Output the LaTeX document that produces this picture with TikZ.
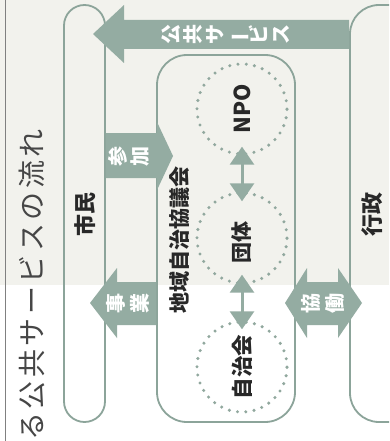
\documentclass[tikz,border=0pt]{standalone}
\usepackage{fontspec}
\usepackage{graphicx}
\setmainfont{Noto Sans CJK JP}
\usetikzlibrary{arrows.meta}
\definecolor{sage}{RGB}{148,172,162}
\definecolor{sageline}{RGB}{140,164,154}
\definecolor{sagedot}{RGB}{145,168,158}
\definecolor{bgtop}{RGB}{242,242,237}
\definecolor{ink}{RGB}{40,40,40}
\definecolor{titleink}{RGB}{70,70,70}
\newcommand{\vbarchar}{\smash{\rotatebox[origin=c]{90}{ー}}}
\newcommand{\tsp}{\hspace{3.5pt}}
\begin{document}
\begin{tikzpicture}[x=1pt,y=-1pt,
  box/.style={draw=sageline, line width=1.8pt, inner sep=0pt},
  dotcircle/.style={circle, draw=sagedot, line width=3.4pt, dash pattern=on 0pt off 8.3pt, line cap=round, minimum size=90pt, inner sep=0pt},
  lbl/.style={text=ink, font=\bfseries\fontsize{21.5}{21.5}\selectfont, rotate=90, inner sep=0pt},
  arrowlbl/.style={text=white, align=center, rotate=90, inner sep=0pt, font=\bfseries\fontsize{20}{22}\selectfont},
  blockarrow/.style={fill=sage},
  link/.style={draw=sage, line width=3pt, {Triangle[width=24pt,length=18pt]}-{Triangle[width=24pt,length=18pt]}}
]
\useasboundingbox (0,0) rectangle (389,441);
\clip (0,0) rectangle (389,441);
\fill[white] (0,0) rectangle (389,441);
\fill[bgtop] (0,0) rectangle (389,285);
\coordinate (ruletop) at (5,0);
\coordinate (rulebot) at (5,441);
\draw[gray, line width=0.8pt] (ruletop) -- (rulebot);

\node[rotate=90, text=titleink, inner sep=0pt, font=\fontsize{28}{28}\selectfont] (title) at (32,285)
  {る\tsp 公\tsp 共\tsp サ\tsp ー\tsp ビ\tsp ス\tsp の\tsp 流\tsp れ};

% boxes
\node[box, rounded corners=20.5pt, minimum width=41pt, minimum height=417pt] (shimin) at (84.5,213.5) {};
\node[box, rounded corners=29pt, minimum width=70pt, minimum height=417pt] (gyosei) at (385,213.5) {};
\node[box, rounded corners=30pt, minimum width=138pt, minimum height=367pt] (chiiki) at (226,238.5) {};

\node[lbl, font=\bfseries\fontsize{22}{22}\selectfont] (shiminlbl) at (85,214) {市民};
\node[lbl, font=\bfseries\fontsize{22}{22}\selectfont] (gyoseilbl) at (372,214) {行政};
\node[lbl, font=\bfseries\fontsize{21}{21}\selectfont] (chiikilbl) at (180,240) {地域自治協議会};

% circles
\node[dotcircle] (npo) at (242,109) {};
\node[dotcircle] (dantai) at (242,238) {};
\node[dotcircle] (jichi) at (242,367) {};
\node[lbl, font=\bfseries\fontsize{22}{22}\selectfont] (npolbl) at (npo) {NPO};
\node[lbl, font=\bfseries\fontsize{21}{21}\selectfont] (dantailbl) at (242,242) {団体};
\node[lbl] (jichilbl) at (jichi) {自治会};

% block arrows
\fill[blockarrow] (gyosei.west |- 0,20) -- (124,20) -- (124,5) -- (93,34) -- (124,63) -- (124,49) -- (gyosei.west |- 0,49) -- cycle;
\fill[blockarrow] (shimin.east |- 0,133) -- (157,133) -- (157,122) -- (173,156) -- (157,190) -- (157,178) -- (shimin.east |- 0,178) -- cycle;
\fill[blockarrow] (chiiki.west |- 0,282) -- (117,282) -- (117,268) -- (90,303) -- (117,338) -- (117,325) -- (chiiki.west |- 0,325) -- cycle;
\fill[blockarrow] (285,303) -- (307,268) -- (307,282) -- (338,282) -- (338,268) -- (362,303) -- (338,338) -- (338,325) -- (307,325) -- (307,338) -- cycle;

\node[arrowlbl] (kokyolbl) at (226,34.5) {公\\共\\サ\\\vbarchar\\ビ\\ス};
\node[arrowlbl] (sankalbl) at (129,156) {参\\加};
\node[arrowlbl, font=\bfseries\fontsize{20}{24}\selectfont] (jigyolbl) at (128,303) {事\\業};
\node[arrowlbl, font=\bfseries\fontsize{20}{23.5}\selectfont] (kyodolbl) at (323,303) {協\\働};

% links between circles
\draw[link] ([yshift=9pt]npo.south) -- ([yshift=-10pt]dantai.north);
\draw[link] ([yshift=10pt]dantai.south) -- ([yshift=-9pt]jichi.north);
\end{tikzpicture}
\end{document}
